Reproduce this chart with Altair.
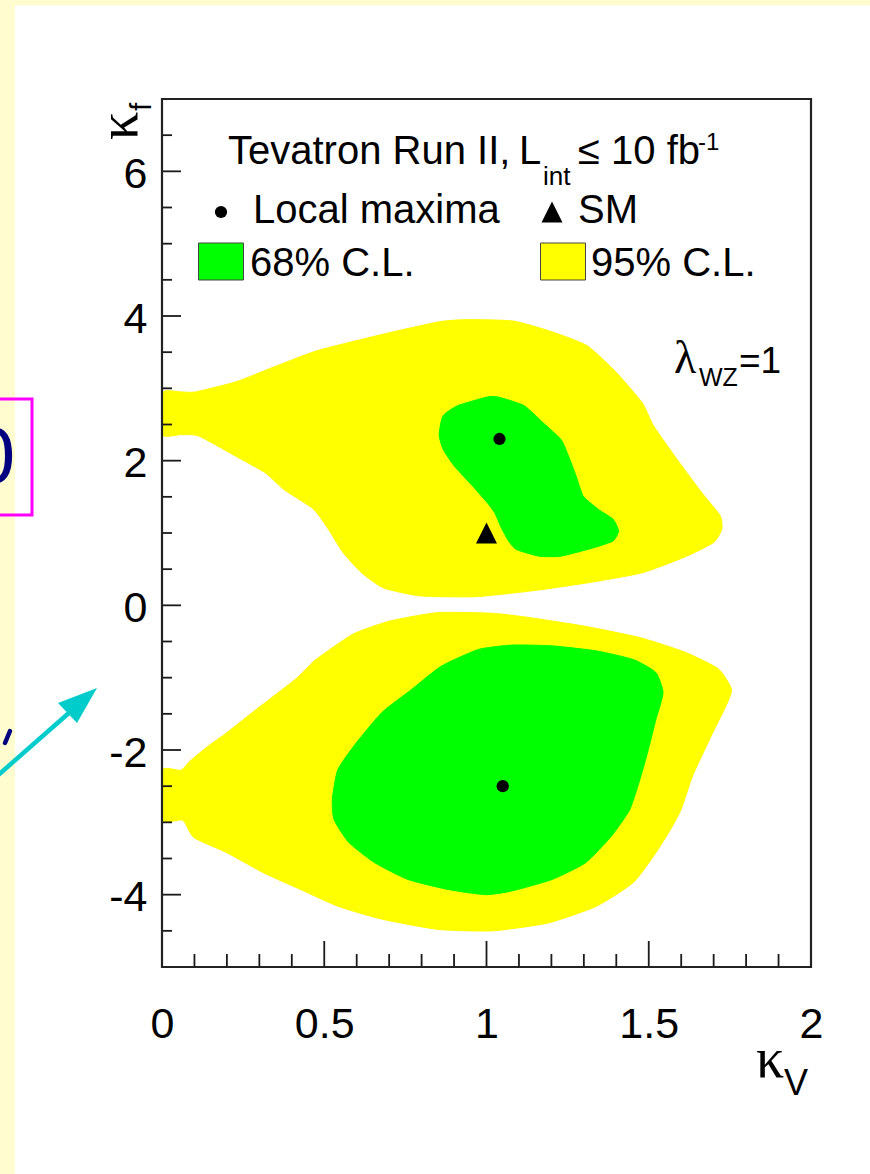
import altair as alt
import pandas as pd

# ---- axis ranges -------------------------------------------------------
KV_DOMAIN = [0, 2]
KF_DOMAIN = [-5, 7]

# ---- tick positions ----------------------------------------------------
kv_major = [0, 0.5, 1, 1.5, 2]
kv_minor = [0.1, 0.2, 0.3, 0.4, 0.6, 0.7, 0.8, 0.9,
            1.1, 1.2, 1.3, 1.4, 1.6, 1.7, 1.8, 1.9]
kf_major = [-4, -2, 0, 2, 4, 6]
kf_minor = [-4.5, -3.5, -3, -2.5, -1.5, -1, -0.5, 0.5, 1, 1.5,
            2.5, 3, 3.5, 4.5, 5, 5.5, 6.5]

# ---- 95% C.L. contour, upper island (kappa_V, kappa_f) -----------------
cl95_up_kv = [0.0, 0.06, 0.103, 0.228, 0.342, 0.478, 0.683, 0.854, 0.945,
              1.082, 1.196, 1.31, 1.40, 1.48, 1.515, 1.595, 1.663, 1.72,
              1.725, 1.70, 1.617, 1.48, 1.31, 1.139, 0.968, 0.797, 0.683,
              0.615, 0.558, 0.513, 0.467, 0.376, 0.319, 0.228, 0.114,
              0.06, 0.0]
cl95_up_kf = [2.94, 2.95, 2.95, 3.09, 3.29, 3.52, 3.75, 3.92, 3.95,
              3.93, 3.79, 3.59, 3.22, 2.80, 2.48, 1.97, 1.56, 1.24,
              1.05, 0.87, 0.68, 0.45, 0.31, 0.20, 0.12, 0.13, 0.24,
              0.45, 0.73, 1.05, 1.33, 1.60, 1.83, 2.06, 2.34,
              2.36, 2.36]

# ---- 68% C.L. contour, upper island ------------------------------------
cl68_up_kv = [0.854, 0.866, 0.911, 1.002, 1.036, 1.116, 1.173, 1.23, 1.253,
              1.276, 1.298, 1.344, 1.39, 1.407, 1.39, 1.333, 1.23, 1.162,
              1.093, 1.071, 1.048, 1.025, 1.002, 0.957, 0.90, 0.866]
cl68_up_kf = [2.36, 2.62, 2.76, 2.88, 2.88, 2.76, 2.53, 2.29, 2.06,
              1.79, 1.51, 1.33, 1.19, 1.03, 0.89, 0.80, 0.68, 0.68,
              0.77, 0.87, 1.05, 1.28, 1.42, 1.65, 1.93, 2.16]

# ---- 95% C.L. contour, lower island ------------------------------------
cl95_lo_kv = [0.0, 0.058, 0.087, 0.144, 0.20, 0.29, 0.337, 0.417, 0.474,
              0.588, 0.70, 0.85, 1.02, 1.134, 1.305, 1.476, 1.613, 1.715,
              1.755, 1.738, 1.692, 1.635, 1.60, 1.567, 1.522, 1.453, 1.339,
              1.191, 1.02, 0.85, 0.679, 0.542, 0.428, 0.314, 0.20, 0.098,
              0.064, 0.0]
cl95_lo_kf = [-2.28, -2.28, -2.15, -1.94, -1.76, -1.44, -1.28, -1.00, -0.75,
              -0.40, -0.22, -0.10, -0.11, -0.17, -0.29, -0.45, -0.65, -0.88,
              -1.16, -1.39, -1.81, -2.36, -2.82, -3.10, -3.42, -3.83, -4.16,
              -4.39, -4.50, -4.48, -4.34, -4.16, -3.93, -3.70, -3.42, -3.21,
              -2.97, -2.97]

# ---- 68% C.L. contour, lower island ------------------------------------
cl68_lo_kv = [0.525, 0.542, 0.599, 0.678, 0.77, 0.861, 0.975, 1.077, 1.202,
              1.339, 1.453, 1.522, 1.544, 1.522, 1.499, 1.476, 1.442, 1.385,
              1.305, 1.202, 1.077, 0.997, 0.883, 0.758, 0.656, 0.576, 0.53]
cl68_lo_kf = [-2.68, -2.27, -1.90, -1.48, -1.16, -0.84, -0.61, -0.55, -0.56,
              -0.63, -0.75, -0.93, -1.21, -1.58, -1.99, -2.36, -2.82, -3.19,
              -3.56, -3.79, -3.95, -4.00, -3.93, -3.79, -3.56, -3.28, -2.96]

# ---- best-fit points and Standard Model expectation --------------------
maxima_kv = [1.04, 1.05]
maxima_kf = [2.30, -2.50]
sm_kv = [1.0]
sm_kf = [1.0]

# ---- styling -----------------------------------------------------------
W, H = 649, 868                      # plot area in pixels
YELLOW, GREEN = "#FFFF00", "#00FF00"
CREAM = "#FFFCD0"
INK = "#1a1a1a"
SANS, SERIF = "Liberation Sans", "Liberation Serif"
TRIANGLE = "M0,-1L1,1L-1,1Z"

x_scale = alt.Scale(domain=KV_DOMAIN, nice=False, zero=False)
y_scale = alt.Scale(domain=KF_DOMAIN, nice=False, zero=False)
x_axis = alt.Axis(values=kv_major, labelExpr="datum.value + ''", ticks=False,
                  tickSize=0, domain=False, grid=False, title=None,
                  labelFont=SANS, labelFontSize=43, labelColor="black",
                  labelPadding=36, labelFlush=False, labelOverlap=False,
                  zindex=1)
y_axis = alt.Axis(values=kf_major, labelExpr="datum.value + ''", ticks=False,
                  tickSize=0, domain=False, grid=False, title=None,
                  labelFont=SANS, labelFontSize=43, labelColor="black",
                  labelPadding=15, labelOffset=3, labelFlush=False,
                  labelOverlap=False, zindex=1)


def X(field):
    return alt.X(field, type="quantitative", scale=x_scale, axis=x_axis)


def Y(field):
    return alt.Y(field, type="quantitative", scale=y_scale, axis=y_axis)


one = alt.Data(values=[{}])


def region(kv, kf, colour):
    df = pd.DataFrame({"kv": kv, "kf": kf, "i": list(range(len(kv)))})
    return alt.Chart(df).mark_line(
        interpolate="cardinal-closed", tension=0.45, fill=colour,
        stroke=colour, strokeWidth=1, clip=True
    ).encode(x=X("kv"), y=Y("kf"), order=alt.Order("i:Q"))


def ticks_y(values, length):
    df = pd.DataFrame({"v": values})
    return alt.Chart(df).mark_rule(color=INK, strokeWidth=1.8).encode(
        y=Y("v"), x=alt.value(0), x2=alt.value(length))


def ticks_x(values, length):
    df = pd.DataFrame({"v": values})
    return alt.Chart(df).mark_rule(color=INK, strokeWidth=1.8).encode(
        x=X("v"), y=alt.value(H), y2=alt.value(H - length))


def label(text, px, py, size, font=SANS, angle=0, align="left",
          colour="black", baseline="alphabetic"):
    return alt.Chart(one).mark_text(
        text=text, font=font, fontSize=size, align=align, baseline=baseline,
        angle=angle, color=colour
    ).encode(x=alt.value(px), y=alt.value(py))


def box(x0, x1, y0, y1, fill, stroke="#444444", width=1.0):
    return alt.Chart(one).mark_rect(fill=fill, stroke=stroke,
                                    strokeWidth=width).encode(
        x=alt.value(x0), x2=alt.value(x1), y=alt.value(y0), y2=alt.value(y1))


# confidence regions
regions = [
    region(cl95_up_kv, cl95_up_kf, YELLOW),
    region(cl95_lo_kv, cl95_lo_kf, YELLOW),
    region(cl68_up_kv, cl68_up_kf, GREEN),
    region(cl68_lo_kv, cl68_lo_kf, GREEN),
]

maxima = alt.Chart(pd.DataFrame({"kv": maxima_kv, "kf": maxima_kf})).mark_point(
    shape="circle", filled=True, size=150, color="black", opacity=1
).encode(x=X("kv"), y=Y("kf"))

sm = alt.Chart(pd.DataFrame({"kv": sm_kv, "kf": sm_kf})).mark_point(
    shape=TRIANGLE, filled=True, size=441, color="black", opacity=1
).encode(x=X("kv"), y=Y("kf"))

ticks = [ticks_y(kf_major, 19), ticks_y(kf_minor, 10),
         ticks_x(kv_major, 26), ticks_x(kv_minor, 13)]

frame = box(0, W, 0, H, "transparent", stroke="#222222", width=2.2)

# in-plot legend
legend = [
    label("Tevatron Run II,", 66, 65, 40),
    label("L", 357, 65, 40),
    label("int", 381, 86, 26),
    label("\u2264 10 fb", 416, 65, 40),
    label("-1", 536, 51, 24),
    alt.Chart(one).mark_point(shape="circle", filled=True, size=150,
                              color="black", opacity=1).encode(
        x=alt.value(59), y=alt.value(113)),
    label("Local maxima", 91, 124, 40),
    alt.Chart(one).mark_point(shape=TRIANGLE, filled=True, size=441,
                              color="black", opacity=1).encode(
        x=alt.value(390), y=alt.value(113)),
    label("SM", 416, 124, 40),
    box(36.5, 81.5, 144, 181, GREEN),
    label("68% C.L.", 88, 177, 40),
    box(378.5, 423.5, 144, 181, YELLOW),
    label("95% C.L.", 429, 177, 40),
    label("\u03bb", 512, 274, 46, font=SERIF),
    label("WZ", 537, 287, 25),
    label("=1", 577, 274, 37),
]

# axis titles
titles = [
    label("\u03ba", 594, 978, 56, font=SERIF),
    label("V", 622, 996, 36),
    label("\u03ba", -25, 41, 56, font=SERIF, angle=270),
    label("f", -11, 12, 30, angle=270),
]

# slide decorations around the figure
arrow_head = "M0.7375,-0.625L-1.2125,0.125L-0.2625,1.125Z"
decor = [
    box(-162, 720, -99, -93.5, CREAM, stroke=CREAM, width=0),
    box(-162, -147, -99, 1080, CREAM, stroke=CREAM, width=0),
    box(-182, -130, 300, 416, "transparent", stroke="#FF00FF", width=3),
    label("0", -169, 384, 80, colour="#000080", align="center"),
    alt.Chart(one).mark_rule(color="#000080", strokeWidth=4.5,
                             strokeCap="round").encode(
        x=alt.value(-152), x2=alt.value(-157),
        y=alt.value(632), y2=alt.value(644)),
    alt.Chart(one).mark_rule(color="#00CCCC", strokeWidth=4.5).encode(
        x=alt.value(-166), x2=alt.value(-92),
        y=alt.value(678), y2=alt.value(613)),
    alt.Chart(one).mark_point(shape=arrow_head, filled=True, size=1600,
                              color="#00CCCC", opacity=1).encode(
        x=alt.value(-79.75), y=alt.value(601.5)),
]

chart = alt.layer(
    *regions, maxima, sm, *ticks, frame, *legend, *titles, *decor
).properties(
    width=W, height=H,
    padding={"left": 162, "top": 99, "right": 59, "bottom": 207},
    autosize=alt.AutoSizeParams(type="none"),
    background="white",
).configure_view(strokeWidth=0)

chart.save("out.html", embed_options={"renderer": "svg", "actions": False})
